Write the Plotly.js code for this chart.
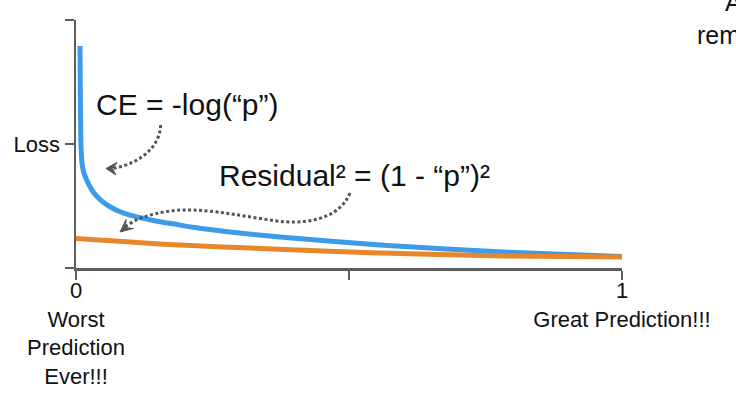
<!DOCTYPE html>
<html>
<head>
<meta charset="utf-8">
<script src="https://cdn.plot.ly/plotly-3.0.1.min.js"></script>
<style>html,body{margin:0;padding:0;background:#fff;overflow:hidden}#chart{width:736px;height:394px}</style>
</head>
<body>
<div id="chart"></div>
<script>
// Cross-entropy curve, CE = -log("p")
const ceP    = [0.0073, 0.0079, 0.0086, 0.0092, 0.0110, 0.0147, 0.0196, 0.0256, 0.0335, 0.0452, 0.0623, 0.0806, 0.0989, 0.1233, 0.1538, 0.1844, 0.2149, 0.282, 0.3736, 0.5568, 0.7821, 1.0];
const ceLoss = [1.790, 1.435, 1.113, 0.978, 0.844, 0.764, 0.710, 0.656, 0.602, 0.548, 0.494, 0.454, 0.427, 0.401, 0.373, 0.351, 0.328, 0.290, 0.250, 0.185, 0.129, 0.093];
// Squared residual curve, (1 - "p")^2
const sqP    = [0.0, 0.1905, 0.3498, 0.542, 0.782, 1.0];
const sqLoss = [0.238, 0.185, 0.155, 0.123, 0.097, 0.089];
// Tick labels
const xTickVals = [0, 1];
const xTickText = ['0<br>Worst<br>Prediction<br>Ever!!!', '1<br>Great Prediction!!!'];
const xMinorVals = [0.5];
const yTickVals = [1];
const yTickText = ['Loss'];
const yMinorVals = [0, 2];

const axisCol = '#5e5e5e';
const arrowCol = '#555555';
const fontFam = '"Liberation Sans", Arial, Helvetica, sans-serif';

const traces = [
  {x: ceP, y: ceLoss, type: 'scatter', mode: 'lines',
   line: {color: '#3e9be9', width: 5, shape: 'spline', smoothing: 0.6}, hoverinfo: 'skip'},
  {x: sqP, y: sqLoss, type: 'scatter', mode: 'lines',
   line: {color: '#e8862b', width: 5, shape: 'spline', smoothing: 0.8}, hoverinfo: 'skip'}
];

const axisCommon = {showgrid: false, zeroline: false, showline: true,
  linecolor: axisCol, linewidth: 2.5, ticks: 'outside', ticklen: 9,
  tickwidth: 2.5, tickcolor: axisCol, tickmode: 'array', fixedrange: true};

const layout = {
  width: 736, height: 394,
  margin: {l: 76, r: 114, t: 20, b: 126},
  paper_bgcolor: '#ffffff', plot_bgcolor: '#ffffff',
  showlegend: false,
  font: {family: fontFam, color: '#111111', size: 22},
  xaxis: Object.assign({}, axisCommon, {range: [0, 1],
          tickvals: xTickVals, ticktext: xTickText, ticklabelstandoff: -8,
          minor: {tickmode: 'array', tickvals: xMinorVals, ticks: 'outside', ticklen: 9, tickwidth: 2.5, tickcolor: axisCol, showgrid: false},
          tickfont: {family: fontFam, size: 22, color: '#111111'}}),
  yaxis: Object.assign({}, axisCommon, {range: [0, 2],
          tickvals: yTickVals, ticktext: yTickText,
          minor: {tickmode: 'array', tickvals: yMinorVals, ticks: 'outside', ticklen: 9, tickwidth: 2.5, tickcolor: axisCol, showgrid: false},
          tickfont: {family: fontFam, size: 22, color: '#111111'}}),
  annotations: [
    {x: 0.033, y: 1.317, xref: 'x', yref: 'y', xanchor: 'left', yanchor: 'middle',
     text: 'CE = -log(“p”)', showarrow: false, font: {family: fontFam, size: 30, color: '#111111'}},
    {x: 0.2577, y: 0.745, xref: 'x', yref: 'y', xanchor: 'left', yanchor: 'middle',
     text: 'Residual² = (1 - “p”)²', showarrow: false,
     font: {family: fontFam, size: 30, color: '#111111'}},
    {x: 1.185, y: 1.074, xref: 'paper', yref: 'paper', xanchor: 'left', yanchor: 'middle',
     text: 'A', showarrow: false, font: {family: fontFam, size: 25, color: '#111111'}},
    {x: 1.1337, y: 0.9407, xref: 'paper', yref: 'paper', xanchor: 'left', yanchor: 'middle',
     text: 'rem', showarrow: false, font: {family: fontFam, size: 25, color: '#111111'}}
  ],
  shapes: [
    {type: 'path', xref: 'x', yref: 'y',
     path: 'M 0.155,1.153 C 0.1538,0.952 0.108,0.831 0.0659,0.802',
     line: {color: arrowCol, width: 3, dash: '3px,2.5px'}},
    {type: 'path', xref: 'x', yref: 'y',
     path: 'M 0.0549,0.8024 L 0.0751,0.8508 L 0.0668,0.80 L 0.0733,0.75 Z',
     fillcolor: arrowCol, line: {color: arrowCol, width: 1}},
    {type: 'path', xref: 'x', yref: 'y',
     path: 'M 0.5018,0.6048 C 0.4799,0.371 0.4103,0.3468 0.3553,0.3871 C 0.2912,0.4274 0.2271,0.4919 0.1722,0.4597 C 0.1355,0.4355 0.1081,0.3952 0.0897,0.3306',
     line: {color: arrowCol, width: 3, dash: '3px,2.5px'}},
    {type: 'path', xref: 'x', yref: 'y',
     path: 'M 0.0806,0.2903 L 0.0916,0.3911 L 0.0905,0.3258 L 0.1053,0.3185 Z',
     fillcolor: arrowCol, line: {color: arrowCol, width: 1}}
  ]
};

Plotly.newPlot('chart', traces, layout, {staticPlot: true, displayModeBar: false});
</script>
</body>
</html>
